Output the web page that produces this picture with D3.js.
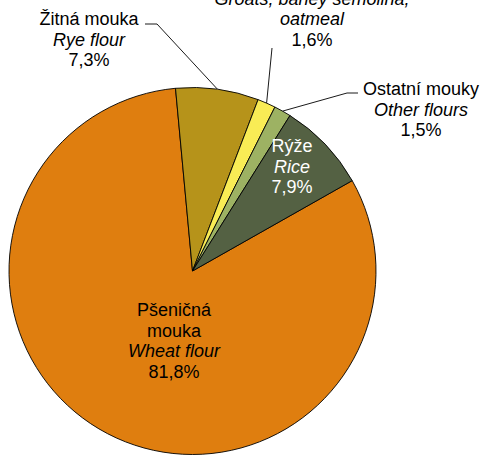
<!DOCTYPE html>
<html>
<head>
<meta charset="utf-8">
<script src="https://cdn.jsdelivr.net/npm/d3@7"></script>
<style>
  body { margin: 0; background: #fff; }
  text { font-family: "Liberation Sans", Arial, sans-serif; font-size: 18px; }
</style>
</head>
<body>
<script>
const width = 486, height = 455;

// data
const namesCz = ["Pšeničná|mouka", "Žitná mouka", "Kroupy, krupice, vločky", "Ostatní mouky", "Rýže"];
const namesEn = ["Wheat flour", "Rye flour", "Groats, barley semolina,|oatmeal", "Other flours", "Rice"];
const shares = [81.8, 7.3, 1.6, 1.5, 7.9];

const colors = ["#df7e0f", "#b6931a", "#f9ec55", "#9db263", "#546143"];

// label layout: anchor x, first baseline, leader path (label side), text colour
const labelPos = [
  {x: 174, y: 316, leader: null, fill: "#000"},
  {x: 89, y: 25, leader: [[145, 24], [157, 24]], fill: "#000"},
  {x: 312, y: -16, leader: [[272, 48]], fill: "#000"},
  {x: 421, y: 95, leader: [[358, 93], [347, 93]], fill: "#000"},
  {x: 292, y: 152, leader: null, fill: "#fff"}
];

const data = shares.map((v, i) => ({cz: namesCz[i], en: namesEn[i], value: v, i}));

const cx = 192.5, cy = 271, r = 183.5;
const lineH = 20.5;
const fmt = v => d3.format(".1f")(v).replace(".", ",") + "%";

const pie = d3.pie()
    .sort(null)
    .value(d => d.value)
    .startAngle(60.5 * Math.PI / 180)
    .endAngle(60.5 * Math.PI / 180 + 2 * Math.PI);

const arc = d3.arc().innerRadius(0).outerRadius(r);

const svg = d3.select("body").append("svg")
    .attr("width", width)
    .attr("height", height)
    .attr("viewBox", [0, 0, width, height]);

const g = svg.append("g").attr("transform", `translate(${cx},${cy})`);
const arcs = pie(data);

g.selectAll("path.slice")
  .data(arcs)
  .join("path")
    .attr("class", "slice")
    .attr("d", arc)
    .attr("fill", d => colors[d.data.i])
    .attr("stroke", "#000")
    .attr("stroke-width", 0.9)
    .attr("stroke-linejoin", "round");

// leader lines
arcs.forEach(d => {
  const p = labelPos[d.data.i];
  if (!p.leader) return;
  const a = (d.startAngle + d.endAngle) / 2;
  const end = [cx + r * Math.sin(a), cy - r * Math.cos(a)];
  svg.append("path")
    .attr("d", d3.line()([...p.leader, end]))
    .attr("fill", "none")
    .attr("stroke", "#1a1a1a")
    .attr("stroke-width", 1);
});

// labels
arcs.forEach(d => {
  const p = labelPos[d.data.i];
  const lines = [
    ...d.data.cz.split("|").map(t => ({t, it: false})),
    ...d.data.en.split("|").map(t => ({t, it: true})),
    {t: fmt(d.data.value), it: false}
  ];
  const t = svg.append("text")
    .attr("text-anchor", "middle")
    .attr("fill", p.fill);
  lines.forEach((l, k) => {
    t.append("tspan")
      .attr("x", p.x)
      .attr("y", p.y + k * lineH)
      .attr("font-style", l.it ? "italic" : "normal")
      .text(l.t);
  });
});
</script>
</body>
</html>
